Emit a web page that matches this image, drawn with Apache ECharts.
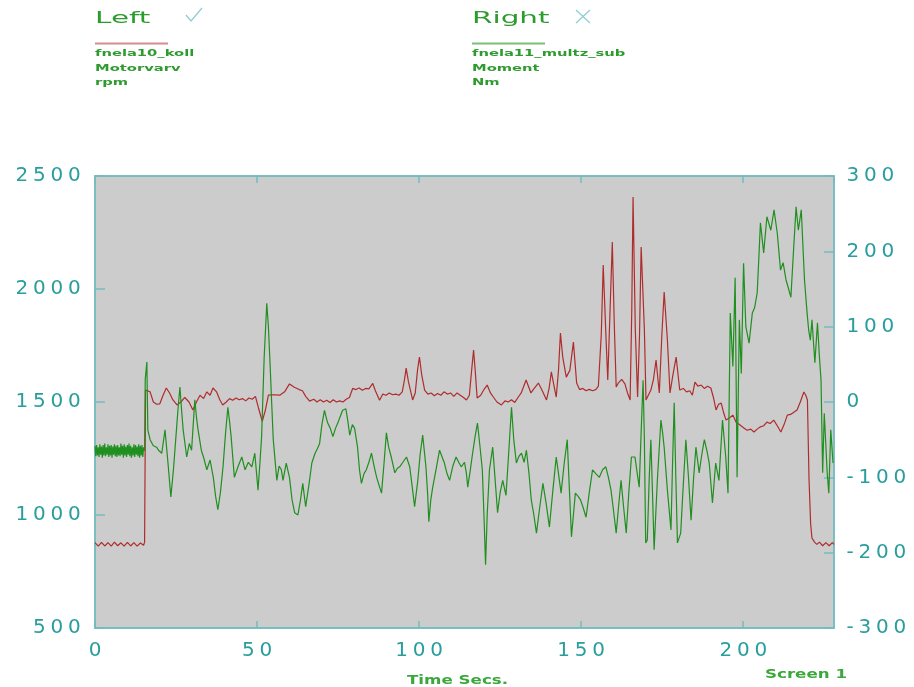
<!DOCTYPE html>
<html>
<head>
<meta charset="utf-8">
<script src="https://cdn.jsdelivr.net/npm/echarts@6/dist/echarts.min.js"></script>
<style>
  html, body { margin: 0; padding: 0; background: #ffffff; }
  #chart { width: 914px; height: 687px; }
</style>
</head>
<body>
<div id="chart"></div>
<script>
// Axis scales
const timeTicks = [0, 50, 100, 150, 200];
const timeMax = 228;
const rpmTicks = [500, 1000, 1500, 2000, 2500];
const nmTicks = [-300, -200, -100, 0, 100, 200, 300];

// Legend captions
const leftCaption = ['Left', 'fnela10_koll', 'Motorvarv', 'rpm'];
const rightCaption = ['Right', 'fnela11_multz_sub', 'Moment', 'Nm'];

// fnela10_koll – Motorvarv [time s, rpm]
const motorvarvRpm = [
  [0,878],[1,862],[2,879],[3,863],[4,878],[5,862],[6,880],[7,864],[8,877],[9,862],
  [10,879],[11,863],[12,878],[13,862],[14,876],[15,866],[15.3,880],[15.6,1553],
  [16,1550],[17,1545],[18,1500],[19,1490],[20,1492],[21,1530],[22,1562],[23,1540],
  [24,1510],[25.3,1487],[26.5,1500],[27.7,1520],[29,1500],[30.2,1465],[31.3,1500],
  [32.4,1530],[33.5,1515],[34.5,1545],[35.5,1530],[36.4,1562],[37.5,1545],[38.5,1510],
  [39.4,1487],[40.5,1500],[41.5,1515],[42.5,1508],[43.5,1518],[44.5,1510],[45.5,1515],
  [46.5,1505],[47.5,1518],[48.5,1512],[49.5,1525],[50.5,1470],[51.6,1415],[52.5,1460],
  [53.5,1530],[55,1532],[57,1530],[58.5,1545],[60,1580],[61.5,1565],[63,1555],[64,1550],
  [65,1525],[66.2,1504],[67.5,1512],[68.5,1500],[69.5,1510],[70.5,1500],[71.5,1508],
  [72.5,1498],[73.5,1510],[74.5,1500],[75.5,1505],[76.5,1500],[77.5,1512],[78.5,1520],
  [79.5,1560],[80.5,1555],[81.5,1562],[82.5,1552],[83.5,1560],[84.5,1558],[85.7,1582],
  [86.5,1550],[87.8,1508],[88.8,1535],[89.8,1530],[90.8,1540],[91.8,1532],[92.8,1535],
  [93.8,1530],[94.8,1545],[95.5,1600],[96,1650],[96.7,1590],[97.5,1540],[98,1509],
  [98.8,1540],[99.5,1640],[100.1,1699],[100.8,1620],[101.7,1553],[102.7,1535],
  [103.7,1540],[104.7,1528],[105.7,1538],[106.7,1530],[107.7,1545],[108.7,1535],
  [109.7,1540],[110.7,1525],[111.7,1540],[112.7,1530],[113.7,1520],[114.6,1509],
  [115.5,1530],[116.2,1640],[116.8,1730],[117.3,1640],[117.9,1518],[119,1530],
  [120,1555],[121,1575],[122,1540],[123,1520],[124,1500],[125.4,1487],[126.5,1505],
  [127.5,1500],[128.5,1510],[129.5,1498],[130.5,1520],[131.5,1540],[133,1597],
  [134.5,1540],[135.5,1560],[136.8,1584],[138,1550],[139.3,1509],[140.1,1560],
  [140.8,1633],[141.5,1580],[142.3,1522],[143,1640],[143.6,1805],[144.3,1700],
  [145.4,1610],[146.5,1640],[147.6,1765],[148.6,1584],[149.5,1555],[150.5,1560],
  [151.5,1550],[152.5,1556],[153.5,1550],[154.5,1555],[155.3,1570],[156.2,1800],
  [156.8,2106],[157.6,1805],[158.2,1597],[158.9,1900],[159.6,2208],[160.2,1850],
  [160.8,1566],[161.5,1585],[162.5,1600],[163.5,1580],[164.3,1540],[165.1,1509],
  [165.6,1900],[166,2407],[166.7,1818],[167.4,1522],[168,1800],[168.5,2186],
  [169.5,1818],[170,1509],[171.5,1553],[172.3,1600],[173.1,1686],[174.1,1540],
  [174.9,1800],[175.6,1987],[176.6,1774],[177.4,1540],[178.3,1620],[179.3,1699],
  [180.4,1553],[181.5,1560],[182.5,1545],[183.5,1550],[184.3,1530],[185.1,1588],
  [186,1570],[187,1575],[188,1560],[189,1570],[190,1562],[190.8,1520],[191.6,1465],
  [192.4,1490],[193.2,1495],[194,1450],[194.7,1420],[195.8,1430],[196.8,1442],
  [197.8,1410],[198.8,1400],[200.2,1385],[201.2,1375],[202.3,1380],[203.3,1367],
  [204.3,1380],[205.3,1390],[206.3,1395],[207.3,1411],[208.3,1405],[209.4,1420],
  [210.5,1395],[211.6,1367],[212.6,1400],[213.6,1442],[214.6,1445],[215.6,1455],
  [216.6,1465],[217.6,1500],[218.7,1544],[219.3,1530],[219.8,1509],[220.3,1155],
  [220.8,960],[221.2,898],[222,880],[222.7,870],[223.5,880],[224.5,864],[225.5,878],
  [226.5,864],[227.5,878],[228,870]
];

// fnela11_multz_sub – Moment [time s, Nm]
const momentNm = [
  [0,-58],[0.25,-72],[0.5,-57],[0.75,-71],[1,-60],[1.25,-73],[1.5,-56],[1.75,-70],
  [2,-59],[2.25,-74],[2.5,-57],[2.75,-71],[3,-55],[3.25,-72],[3.5,-60],[3.75,-70],
  [4,-56],[4.25,-73],[4.5,-58],[4.75,-71],[5,-57],[5.25,-74],[5.5,-59],[5.75,-70],
  [6,-56],[6.25,-72],[6.5,-58],[6.75,-73],[7,-57],[7.25,-71],[7.5,-60],[7.75,-72],
  [8,-55],[8.25,-70],[8.5,-58],[8.75,-74],[9,-56],[9.25,-71],[9.5,-59],[9.75,-73],
  [10,-57],[10.25,-70],[10.5,-55],[10.75,-72],[11,-58],[11.25,-74],[11.5,-60],
  [11.75,-71],[12,-56],[12.25,-73],[12.5,-57],[12.75,-70],[13,-59],[13.25,-72],
  [13.5,-56],[13.75,-74],[14,-58],[14.25,-71],[14.5,-57],[14.75,-73],[15,-60],
  [15.3,-65],[15.5,30],[16,53],
  [16.3,-37],[17,-50],[18,-58],[19,-60],[19.6,-64],[20.6,-68],[21.6,-37],[22.5,-80],
  [23.4,-126],[24.2,-90],[24.9,-50],[25.6,-10],[26.2,20],[26.7,-10],[27.2,-37],
  [28.3,-73],[29.1,-55],[29.8,-64],[30.3,-30],[30.8,3],[31.3,-20],[31.8,-37],[32.8,-64],
  [33.6,-75],[34.5,-90],[35.5,-77],[36.5,-100],[37.2,-125],[37.9,-143],[38.7,-120],
  [39.5,-86],[40.3,-40],[41,-7],[41.5,-25],[42,-46],[43,-100],[44.2,-85],[45.3,-73],
  [46.3,-90],[47.3,-80],[48.4,-86],[49.3,-68],[50.3,-117],[50.9,-80],[51.4,-46],
  [52.2,60],[53,131],[53.5,100],[54,52],[54.5,0],[55,-50],[56.1,-104],[56.8,-85],
  [57.5,-90],[58,-104],[59,-81],[60,-100],[60.8,-130],[61.6,-147],[62.6,-150],
  [63.4,-130],[64.1,-108],[65,-139],[66,-110],[66.9,-81],[67.9,-68],[68.6,-62],
  [69.3,-55],[70,-30],[70.8,-11],[71.3,-20],[71.8,-28],[72.6,-35],[73.4,-46],[74.2,-35],
  [74.9,-28],[75.6,-20],[76.4,-11],[77.4,-9],[78,-25],[78.6,-44],[79.4,-30],[80.1,-35],
  [81,-60],[81.6,-90],[82.2,-108],[83,-95],[83.7,-90],[84.5,-80],[85.3,-68],[86.1,-85],
  [86.9,-100],[87.6,-110],[88.4,-121],[89.2,-80],[89.9,-41],[90.6,-60],[91.4,-73],
  [92.5,-94],[93.3,-88],[94,-86],[95,-80],[96.1,-73],[97.1,-86],[97.8,-110],[98.6,-139],
  [99.6,-104],[100.3,-70],[101.1,-44],[102.1,-86],[102.6,-120],[103,-159],[103.6,-130],
  [104.2,-113],[105.2,-90],[106.3,-64],[107.8,-81],[108.6,-95],[109.4,-104],[110.4,-85],
  [111.4,-73],[112.2,-80],[113,-86],[114,-80],[114.6,-95],[115,-113],[115.8,-90],
  [116.5,-68],[117.3,-45],[118,-28],[118.8,-60],[119.5,-90],[120,-150],[120.5,-216],
  [121,-150],[121.7,-90],[122.7,-60],[123.4,-100],[124.2,-147],[125,-120],[125.8,-104],
  [126.8,-124],[127.6,-70],[128.5,-7],[129.2,-50],[130,-81],[130.8,-72],[131.6,-68],
  [132.4,-80],[133.1,-64],[133.9,-95],[134.6,-130],[135.4,-150],[136.2,-174],
  [137.2,-140],[138.2,-108],[139.2,-135],[140.2,-166],[141.2,-120],[142.3,-73],
  [143,-95],[143.8,-121],[144.8,-80],[145.7,-50],[146.3,-110],[147,-179],[147.6,-150],
  [148.2,-121],[149,-125],[149.8,-130],[150.6,-140],[151.5,-153],[152.5,-120],
  [153.5,-90],[154.5,-95],[155.6,-100],[156.6,-90],[157.6,-86],[158.4,-100],
  [159.2,-117],[160,-145],[160.8,-174],[161.5,-140],[162.3,-104],[163.1,-140],
  [163.9,-174],[164.7,-120],[165.5,-73],[166.6,-73],[167.3,-95],[167.9,-113],
  [168.5,-40],[169.1,29],[169.5,-50],[169.9,-187],[170.4,-183],[171,-100],[171.5,-50],
  [172,-120],[172.5,-196],[173,-150],[173.5,-104],[174.6,-24],[175.1,-40],[175.6,-60],
  [176.6,-117],[177.7,-170],[178.2,-80],[178.7,-1],[179.2,-100],[179.7,-187],
  [180.7,-174],[181.5,-110],[182.3,-50],[183.1,-100],[183.9,-157],[184.7,-100],
  [185.4,-60],[186.4,-94],[187.2,-70],[188,-50],[188.8,-65],[189.5,-81],[190.5,-134],
  [191.5,-81],[192.5,-104],[193.6,-24],[194.6,-73],[195.3,-121],[196,118],[196.8,47],
  [197.5,165],[198.1,-100],[198.8,109],[199.4,38],[200.1,184],[200.8,100],[201.8,78],
  [202.8,118],[203.5,125],[204.3,145],[204.8,190],[205.3,238],[206.3,198],[207.3,246],
  [208.5,228],[209.5,255],[210.5,224],[211.5,175],[212.3,185],[213.2,162],[214,150],
  [214.7,139],[215.5,200],[216.3,259],[217,228],[217.9,255],[218.9,162],[219.7,118],
  [220.2,95],[220.7,82],[221.2,109],[222.1,52],[222.9,105],[223.5,60],[224,29],
  [224.5,-94],[225,-15],[225.9,-94],[226.4,-121],[227,-37],[227.7,-81]
];

const FONT = 'DejaVu Sans';
const TEAL_TEXT = '#2a9d9d';
const TEAL_LINE = '#72bcc0';
const GREEN_TEXT = '#2e9b2e';

// Spread digits out to get the wide numeric face of the scale labels
function wideNumber(v) {
  return String(v).split('').map(c => (c === '-' ? '{m|-}' : '{d|' + c + '}')).join('');
}
const wideRich = {
  d: { width: 17.5, align: 'center', fontSize: 20, fontFamily: FONT, color: TEAL_TEXT },
  m: { width: 12, align: 'center', fontSize: 20, fontFamily: FONT, color: TEAL_TEXT }
};

function caption(lines, x, lineColor, mark) {
  const els = [
    { type: 'text', x: x, y: 19, scaleX: 1.9, scaleY: 1,
      style: { text: lines[0], fontSize: 15.5, fontFamily: FONT, fill: GREEN_TEXT, verticalAlign: 'middle' } },
    { type: 'line', shape: { x1: x, y1: 43.5, x2: x + 73, y2: 43.5 },
      style: { stroke: lineColor, lineWidth: 2 } }
  ];
  const ys = [54, 68.5, 83];
  for (let i = 1; i < lines.length; i++) {
    els.push({ type: 'text', x: x, y: ys[i - 1], scaleX: 1.55, scaleY: 1,
      style: { text: lines[i], fontSize: 9.5, fontWeight: 'bold', fontFamily: FONT,
               fill: GREEN_TEXT, verticalAlign: 'middle' } });
  }
  return els.concat(mark);
}

const checkMark = [{ type: 'polyline', shape: { points: [[186, 15], [191, 21], [202, 8]] },
  style: { stroke: '#8fcfd3', lineWidth: 1.3, fill: null } }];
const crossMark = [
  { type: 'line', shape: { x1: 576, y1: 10, x2: 590, y2: 23 }, style: { stroke: '#8fcfd3', lineWidth: 1.3 } },
  { type: 'line', shape: { x1: 590, y1: 10, x2: 576, y2: 23 }, style: { stroke: '#8fcfd3', lineWidth: 1.3 } }
];

const chart = echarts.init(document.getElementById('chart'), null, { renderer: 'canvas' });

const axisLineStyle = { show: true, onZero: false, lineStyle: { color: TEAL_LINE, width: 1.5 } };

const xCommon = {
  type: 'value',
  min: timeTicks[0],
  max: timeMax,
  interval: timeTicks[1] - timeTicks[0],
  splitLine: { show: false },
  axisLine: axisLineStyle,
  axisTick: { show: true, inside: true, length: 7, lineStyle: { color: TEAL_LINE, width: 1.5 } }
};

chart.setOption({
  animation: false,
  backgroundColor: '#ffffff',
  grid: {
    left: 95, right: 80, top: 176, bottom: 59,
    show: true, backgroundColor: '#cccccc', borderColor: TEAL_LINE, borderWidth: 1.5
  },
  xAxis: [
    Object.assign({}, xCommon, {
      position: 'bottom',
      axisLabel: { show: true, margin: 13, showMaxLabel: false, formatter: wideNumber, rich: wideRich }
    }),
    Object.assign({}, xCommon, {
      position: 'top',
      axisLabel: { show: false }
    })
  ],
  yAxis: [
    {
      type: 'value', position: 'left',
      min: rpmTicks[0], max: rpmTicks[rpmTicks.length - 1], interval: rpmTicks[1] - rpmTicks[0],
      splitLine: { show: false },
      axisLine: axisLineStyle,
      axisTick: { show: true, inside: true, length: 10, lineStyle: { color: TEAL_LINE, width: 1.5 } },
      axisLabel: { margin: 12, formatter: wideNumber, rich: wideRich }
    },
    {
      type: 'value', position: 'right',
      min: nmTicks[0], max: nmTicks[nmTicks.length - 1], interval: nmTicks[1] - nmTicks[0],
      splitLine: { show: false },
      axisLine: axisLineStyle,
      axisTick: { show: true, inside: true, length: 10, lineStyle: { color: TEAL_LINE, width: 1.5 } },
      axisLabel: { margin: 10, formatter: wideNumber, rich: wideRich }
    }
  ],
  series: [
    {
      name: 'Motorvarv', type: 'line', xAxisIndex: 0, yAxisIndex: 0,
      data: motorvarvRpm, showSymbol: false, symbol: 'none',
      lineStyle: { color: '#b02c2c', width: 1.2 }
    },
    {
      name: 'Moment', type: 'line', xAxisIndex: 0, yAxisIndex: 1,
      data: momentNm, showSymbol: false, symbol: 'none',
      lineStyle: { color: '#1f8f1f', width: 1.2 }
    }
  ],
  graphic: [].concat(
    caption(leftCaption, 95, '#d48c8c', checkMark),
    caption(rightCaption, 472, '#78c078', crossMark),
    [
      { type: 'text', x: 407, y: 681, scaleX: 1.45, scaleY: 1,
        style: { text: 'Time Secs.', fontSize: 11.5, fontWeight: 'bold', fontFamily: FONT,
                 fill: '#3aa83a', verticalAlign: 'middle' } },
      { type: 'text', x: 765, y: 675, scaleX: 1.45, scaleY: 1,
        style: { text: 'Screen 1', fontSize: 11.5, fontWeight: 'bold', fontFamily: FONT,
                 fill: '#3aa83a', verticalAlign: 'middle' } }
    ]
  )
});
</script>
</body>
</html>
